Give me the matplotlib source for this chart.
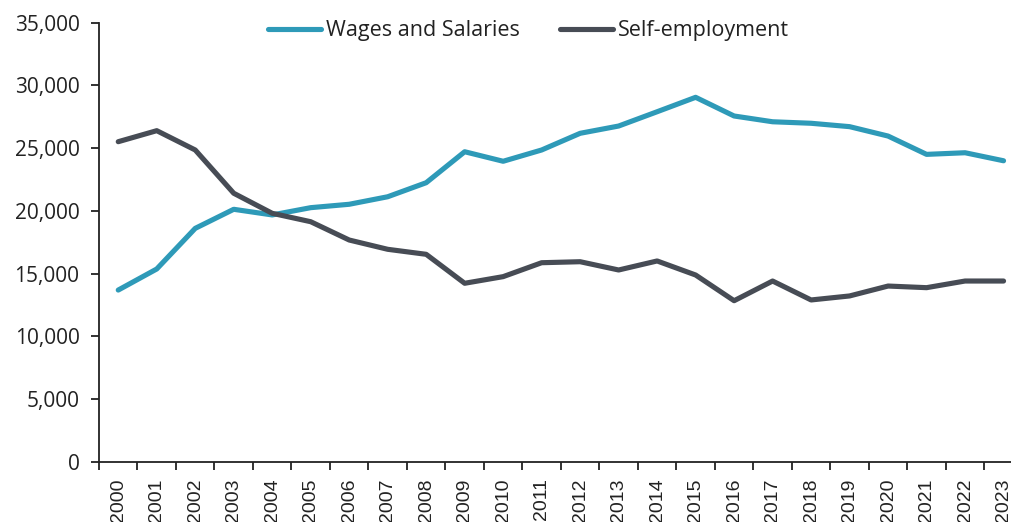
import matplotlib
matplotlib.use("Agg")
import matplotlib.pyplot as plt
from matplotlib.ticker import FuncFormatter, FixedLocator
import numpy as np

years = [str(y) for y in range(2000, 2024)]
wages = [13680, 15360, 18600, 20120, 19670, 20250, 20520, 21120, 22240, 24710,
         23950, 24850, 26180, 26760, 27900, 29050, 27560, 27100, 26980, 26710,
         25960, 24500, 24630, 23990]
self_emp = [25510, 26390, 24850, 21400, 19800, 19130, 17670, 16930, 16530, 14220,
            14750, 15860, 15940, 15280, 16000, 14880, 12830, 14400, 12890, 13210,
            14000, 13870, 14400, 14400]
yticks = [0, 5000, 10000, 15000, 20000, 25000, 30000, 35000]

plt.rcParams['font.family'] = ['Open Sans', 'DejaVu Sans']

fig = plt.figure(figsize=(10.12, 5.22), dpi=100)
W, H = 1012, 522
left, right, top, bottom = 99, 1022.8, 22.7, 461.6
ax = fig.add_axes([left / W, 1 - bottom / H, (right - left) / W, (bottom - top) / H])

x = np.arange(len(years))
ax.plot(x, wages, color='#2E9AB8', lw=3.7, solid_capstyle='round', solid_joinstyle='round',
        label='Wages and Salaries')
ax.plot(x, self_emp, color='#474C55', lw=3.7, solid_capstyle='round', solid_joinstyle='round',
        label='Self-employment')

ax.set_xlim(-0.5, len(years) - 0.5)
ax.set_ylim(0, 35000)
ax.set_yticks(yticks)
ax.yaxis.set_major_formatter(FuncFormatter(lambda v, p: f"{int(v):,}"))

ax.set_xticks(x)
ax.set_xticklabels(years, rotation=90, fontfamily=['Liberation Sans', 'DejaVu Sans'])
ax.xaxis.set_minor_locator(FixedLocator(np.arange(-0.5, len(years), 1.0)))
ax.tick_params(axis='x', which='major', length=0, pad=12, labelsize=14, colors='#222222')
ax.tick_params(axis='x', which='minor', length=6, width=1.3, direction='out', color='#222222')
ax.tick_params(axis='y', which='major', length=6, width=1.3, direction='out', pad=8,
               labelsize=15, colors='#222222')

for s in ['top', 'right']:
    ax.spines[s].set_visible(False)
for s in ['left', 'bottom']:
    ax.spines[s].set_linewidth(1.3)
    ax.spines[s].set_color('#222222')

leg = ax.legend(loc='center', bbox_to_anchor=(0.465, 0.982), ncol=2, frameon=False,
                fontsize=15.5, handlelength=2.45, handletextpad=0.22, columnspacing=1.9)
for t in leg.get_texts():
    t.set_color('#222222')

fig.savefig('out.png', dpi=100)
